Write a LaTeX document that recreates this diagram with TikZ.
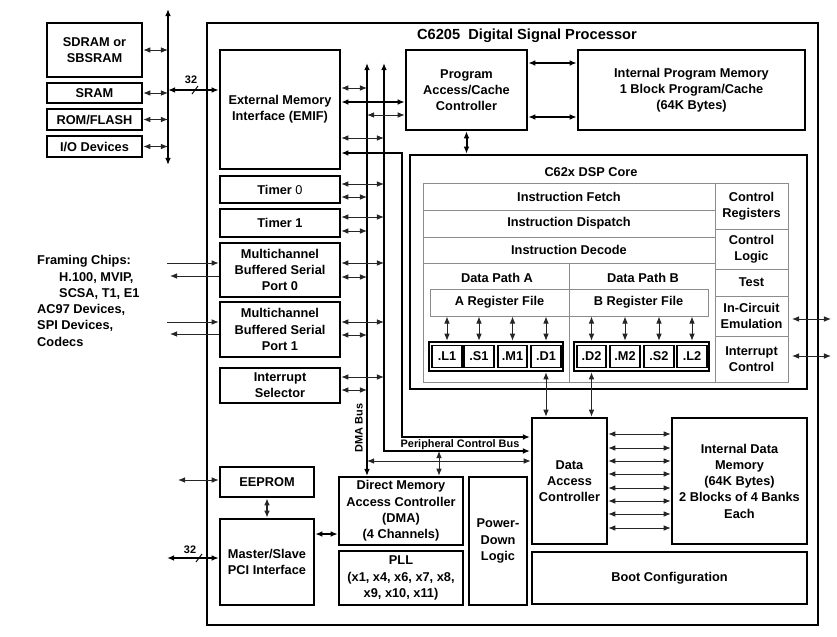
\documentclass[tikz,border=0pt]{standalone}
\usepackage{fontspec}
\setmainfont{Liberation Sans}
\usetikzlibrary{arrows.meta,positioning,calc}

\begin{document}
\begin{tikzpicture}[x=0.03cm, y=-0.03cm,
  blk/.style={draw, line width=2.1pt, align=center, inner sep=1pt, font=\fontsize{10.9}{13.9}\selectfont\bfseries},
  cell/.style={draw=black!45, line width=0.8pt, align=center, inner sep=1pt, font=\fontsize{10.9}{13.9}\selectfont\bfseries},
  unit/.style={draw, line width=1.5pt, minimum width=0.88cm, minimum height=0.66cm, inner sep=0pt, font=\fontsize{10.9}{12}\selectfont\bfseries},
  txt/.style={inner sep=0pt, font=\fontsize{10.9}{13.9}\selectfont\bfseries},
  lab/.style={inner sep=0pt, font=\fontsize{9.3}{11}\selectfont\bfseries},
  dtip/.style={{Latex[length=6pt,width=4.8pt]}-{Latex[length=6pt,width=4.8pt]}},
  darr/.style={dtip, line width=0.8pt, black!85},
  bus/.style={dtip, line width=1.7pt},
  rarr/.style={-{Latex[length=6pt,width=4.8pt]}, line width=0.8pt, black!85}]
  \useasboundingbox (0,0) rectangle (837,636);

  %--- chip outline ---
  \node[draw, line width=2.1pt, minimum width=18.33cm, minimum height=18.06cm] (chip) at (512.5,324) {};
  \node[inner sep=0pt, font=\fontsize{12.5}{14}\selectfont\bfseries] (title) at (527,36) {C6205\ \ Digital Signal Processor};

  %--- external memories ---
  \node[blk, minimum width=2.85cm, minimum height=1.62cm] (sdram) at (94.5,50) {SDRAM or\\SBSRAM};
  \node[blk, minimum width=2.85cm, minimum height=0.6cm] (sram) at (94.5,93) {SRAM};
  \node[blk, minimum width=2.85cm, minimum height=0.63cm] (rom) at (94.5,119.5) {ROM/FLASH};
  \node[blk, minimum width=2.85cm, minimum height=0.63cm] (io) at (94.5,146.5) {I/O Devices};

  \coordinate (xbtop) at (168,9);
  \coordinate (xbbot) at (168,165);
  \draw[bus] (xbtop) -- (xbbot);
  \foreach \m in {sdram,sram,rom,io}
    \draw[darr] (\m.east) -- (\m.east -| xbtop);

  % EMIF and its 32 bit bus
  \node[blk, minimum width=3.6cm, minimum height=3.57cm] (emif) at (280,109.5) {External Memory\\Interface (EMIF)};
  \coordinate (e32) at (168,90);
  \draw[bus] (e32) -- (emif.west |- e32);
  \draw[line width=0.8pt] (192,94) -- (198,86);
  \node[lab] (w32a) at (191,80) {32};

  %--- program side ---
  \node[blk, minimum width=3.63cm, minimum height=2.4cm] (pacc) at (466.5,90) {Program\\Access/Cache\\Controller};
  \node[blk, minimum width=6.81cm, minimum height=2.4cm] (ipm) at (691.5,90) {Internal Program Memory\\1 Block Program/Cache\\(64K Bytes)};
  \draw[bus] (pacc.east |- 0,63) -- (ipm.west |- 0,63);
  \draw[bus] (pacc.east |- 0,117) -- (ipm.west |- 0,117);

  %--- C62x DSP core ---
  \node[blk, minimum width=11.91cm, minimum height=7.02cm] (core) at (608.5,272) {};
  \node[txt] (coreT) at (591,172) {C62x DSP Core};
  \draw[bus] (pacc.south) -- (pacc.south |- core.north);

  \node[cell, minimum width=8.76cm, minimum height=0.81cm] (fetch) at (569,196.5) {Instruction Fetch};
  \node[cell, minimum width=8.76cm, minimum height=0.81cm] (disp) at (569,223.5) {Instruction Dispatch};
  \node[cell, minimum width=8.76cm, minimum height=0.78cm] (dec) at (569,250) {Instruction Decode};
  \node[cell, minimum width=4.38cm, minimum height=3.57cm] (dpa) at (496,322.5) {};
  \node[cell, minimum width=4.38cm, minimum height=3.57cm] (dpb) at (642,322.5) {};
  \node[txt] (dpaT) at (497,278) {Data Path A};
  \node[txt] (dpbT) at (643,278) {Data Path B};
  \node[cell, minimum width=4.17cm, minimum height=0.81cm] (rfa) at (499.5,302.5) {A Register File};
  \node[cell, minimum width=4.17cm, minimum height=0.81cm] (rfb) at (638.5,302.5) {B Register File};

  \node[cell, minimum width=2.19cm, minimum height=1.38cm] (creg) at (751.5,206) {Control\\Registers};
  \node[cell, minimum width=2.19cm, minimum height=1.2cm] (clog) at (751.5,249) {Control\\Logic};
  \node[cell, minimum width=2.19cm, minimum height=0.81cm] (test) at (751.5,282.5) {Test};
  \node[cell, minimum width=2.19cm, minimum height=1.2cm] (ice) at (751.5,316) {In-Circuit\\Emulation};
  \node[cell, minimum width=2.19cm, minimum height=1.38cm] (intc) at (751.5,359) {Interrupt\\Control};

  \coordinate (chipR) at (831,300);
  \draw[darr, shorten <=3pt] (ice.east |- 0,319) -- (chipR |- 0,319);
  \draw[darr, shorten <=3pt] (intc.east |- 0,356) -- (chipR |- 0,356);

  % functional units
  \node[draw, line width=2.1pt, minimum width=4.02cm, minimum height=0.87cm] (ga) at (496,356.5) {};
  \node[draw, line width=2.1pt, minimum width=4.05cm, minimum height=0.87cm] (gb) at (641.5,356.5) {};
  \foreach \n/\t/\x in {l1/.L1/447, s1/.S1/479, m1/.M1/512.5, d1/.D1/546, d2/.D2/591.5, m2/.M2/625, s2/.S2/659, l2/.L2/692}{
    \node[unit] (\n) at (\x,356.5) {\t};
    \draw[darr] (\n |- ga.north) -- (\n |- rfa.south);
  }

  %--- peripherals ---
  \node[blk, minimum width=3.6cm, minimum height=0.81cm] (tim0) at (280,189.5) {Timer {\mdseries 0}};
  \node[blk, minimum width=3.6cm, minimum height=0.84cm] (tim1) at (280,223) {Timer 1};
  \node[blk, minimum width=3.6cm, minimum height=1.62cm] (msp0) at (280,270) {Multichannel\\Buffered Serial\\Port 0};
  \node[blk, minimum width=3.6cm, minimum height=1.65cm] (msp1) at (280,329.5) {Multichannel\\Buffered Serial\\Port 1};
  \node[blk, minimum width=3.6cm, minimum height=1.05cm] (isel) at (280,385.5) {Interrupt\\Selector};

  % buses
  \coordinate (busA) at (367,63);
  \coordinate (busB) at (384,63);
  \draw[bus] (busA) -- (busA |- 0,476);
  \draw[bus] (busB) -- (busB |- 0,451) -- (530,451);
  \node[lab, rotate=90] (dmabus) at (359,428) {DMA Bus};
  \node[lab] (pcbus) at (460,445) {Peripheral Control Bus};

  \draw[darr] (emif.east |- 0,88) -- (busA |- 0,88);
  \draw[bus] (emif.east |- 0,102) -- (pacc.west |- 0,102);
  \draw[darr] (busA |- 0,115) -- (pacc.west |- 0,115);
  \draw[darr] (emif.east |- 0,138) -- (busB |- 0,138);
  \draw[bus] (emif.east |- 0,153) -- (402,153) -- (402,437) -- (530,437);

  \foreach \p/\ya/\yb in {tim0/184/197, tim1/217/231, msp0/263/277, msp1/322/335, isel/377/390}{
    \draw[darr] (\p.east |- 0,\ya) -- (busB |- 0,\ya);
    \draw[darr] (\p.east |- 0,\yb) -- (busA |- 0,\yb);
  }

  %--- framing chips ---
  \node[txt, align=left, anchor=west] (frm) at (37,301) {Framing Chips:\\\hspace*{0.66cm}H.100, MVIP,\\\hspace*{0.66cm}SCSA, T1, E1\\AC97 Devices,\\SPI Devices,\\Codecs};
  \coordinate (fr0i) at (167,263);
  \coordinate (fr0o) at (170,276);
  \coordinate (fr1i) at (167,322);
  \coordinate (fr1o) at (170,334);
  \draw[rarr] (fr0i) -- (msp0.west |- fr0i);
  \draw[rarr] (msp0.west |- fr0o) -- (fr0o);
  \draw[rarr] (fr1i) -- (msp1.west |- fr1i);
  \draw[rarr] (msp1.west |- fr1o) -- (fr1o);

  %--- lower blocks ---
  \node[blk, minimum width=2.82cm, minimum height=0.9cm] (eeprom) at (267,482) {EEPROM};
  \node[blk, minimum width=2.82cm, minimum height=2.58cm] (pci) at (267,562) {Master/Slave\\PCI Interface};
  \node[blk, minimum width=3.72cm, minimum height=2.04cm] (dma) at (401,511) {Direct Memory\\Access Controller\\(DMA)\\(4 Channels)};
  \node[blk, minimum width=3.72cm, minimum height=1.62cm] (pll) at (401,578) {PLL\\(x1, x4, x6, x7, x8,\\x9, x10, x11)};
  \node[blk, minimum width=1.74cm, minimum height=3.84cm] (pdl) at (498,541) {Power-\\Down\\Logic};
  \node[blk, minimum width=2.25cm, minimum height=3.78cm] (dac) at (569.5,481) {Data\\Access\\Controller};
  \node[blk, minimum width=4.05cm, minimum height=3.78cm] (idm) at (739.5,481) {Internal Data\\Memory\\(64K Bytes)\\2 Blocks of 4 Banks\\Each};
  \node[blk, minimum width=8.25cm, minimum height=1.56cm] (boot) at (669.5,578) {Boot Configuration};

  \coordinate (eeX) at (178,480);
  \draw[darr] (eeX) -- (eeprom.west |- eeX);
  \draw[darr, line width=1.2pt] (eeprom.south) -- (pci.north);
  \coordinate (pciX) at (167,558);
  \draw[bus] (pciX) -- (pci.west |- pciX);
  \draw[line width=0.8pt] (196,562) -- (202,554);
  \node[lab] (w32b) at (190,550) {32};
  \draw[bus] (pci.east |- 0,534) -- (dma.west |- 0,534);

  \draw[darr] (busA |- 0,461) -- (dac.west |- 0,461);
  \coordinate (pcbT) at (439,451);
  \draw[darr] (pcbT) -- (pcbT |- dma.north);

  \draw[darr] (d1 |- ga.south) -- (d1 |- dac.north);
  \draw[darr] (d2 |- gb.south) -- (d2 |- dac.north);
  \foreach \y in {434,448,461,474,488,501,514,528}
    \draw[darr] (dac.east |- 0,\y) -- (idm.west |- 0,\y);
\end{tikzpicture}
\end{document}
